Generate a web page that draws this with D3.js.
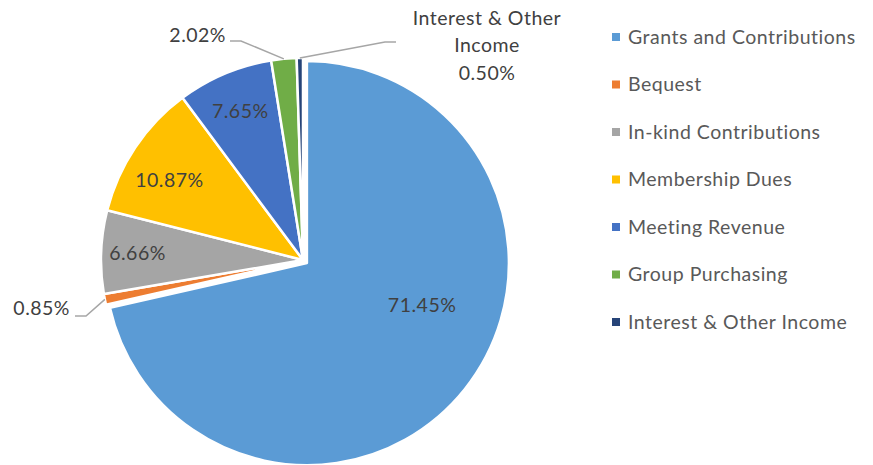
<!DOCTYPE html>
<html>
<head>
<meta charset="utf-8">
<script src="https://cdn.jsdelivr.net/npm/d3@7"></script>
<style>
  body { margin: 0; background: #fff; }
  svg text { font-family: Lato, "Open Sans", sans-serif; letter-spacing: 0.5px; }
</style>
</head>
<body>
<svg width="873" height="465"></svg>
<script>
// revenue breakdown
const categories = ["Grants and Contributions", "Bequest", "In-kind Contributions", "Membership Dues", "Meeting Revenue", "Group Purchasing", "Interest & Other Income"];
const shares = [71.45, 0.85, 6.66, 10.87, 7.65, 2.02, 0.50];
const labels = ["71.45%", "0.85%", "6.66%", "10.87%", "7.65%", "2.02%", "0.50%"];
const colors = ["#5B9BD5", "#ED7D31", "#A5A5A5", "#FFC000", "#4472C4", "#70AD47", "#264478"];

const data = categories.map((c, i) => ({name: c, value: shares[i], label: labels[i], color: colors[i]}));

let svg = d3.select("svg");
let cx = 303, cy = 260, r = 202;
let fs = 19.5;

let pie = d3.pie().sort(null).value(d => d.value);
let arc = d3.arc().innerRadius(0).outerRadius(r);
let arcs = pie(data);

let g = svg.append("g").attr("transform", `translate(${cx},${cy})`);

// big slice is pulled out a bit
function offset(d, i) {
  if (i !== 0) return "translate(0,0)";
  let a = (d.startAngle + d.endAngle) / 2, e = 5;
  return `translate(${Math.sin(a) * e},${-Math.cos(a) * e})`;
}

g.selectAll("path")
  .data(arcs)
  .enter()
  .append("path")
  .attr("d", arc)
  .attr("transform", offset)
  .attr("fill", d => d.data.color)
  .attr("stroke", "#fff")
  .attr("stroke-width", 2.5)
  .attr("stroke-linejoin", "round");

// inside labels: [angle shift (deg), radius fraction]
const inside = {0: [-18, 0.63], 2: [0, 0.82], 3: [-3, 0.77], 4: [0, 0.8]};
const txtColor = "#404040";

arcs.forEach((d, i) => {
  if (inside[i] == null) return;
  let a = (d.startAngle + d.endAngle) / 2 + inside[i][0] * Math.PI / 180, rr = r * inside[i][1];
  g.append("text")
    .attr("x", Math.sin(a) * rr)
    .attr("y", -Math.cos(a) * rr)
    .attr("dy", "0.35em")
    .attr("text-anchor", "middle")
    .attr("font-size", fs)
    .attr("fill", txtColor)
    .text(d.data.label);
});

// outside labels with leader lines
function edge(d, k) {
  let a = (d.startAngle + d.endAngle) / 2;
  return [cx + Math.sin(a) * r * k, cy - Math.cos(a) * r * k];
}

let lineColor = "#A6A6A6";
let bq = edge(arcs[1], 1.0);
svg.append("polyline")
  .attr("points", [[75, 316], [86, 316], bq].map(p => p.join(",")).join(" "))
  .attr("fill", "none").attr("stroke", lineColor).attr("stroke-width", 1.5);
svg.append("text").attr("x", 70).attr("y", 308).attr("dy", "0.35em")
  .attr("text-anchor", "end").attr("font-size", fs).attr("fill", txtColor).text(arcs[1].data.label);

let gp = edge(arcs[5], 1.0);
svg.append("polyline")
  .attr("points", [[230, 41], [241, 41], gp].map(p => p.join(",")).join(" "))
  .attr("fill", "none").attr("stroke", lineColor).attr("stroke-width", 1.5);
svg.append("text").attr("x", 226).attr("y", 35).attr("dy", "0.35em")
  .attr("text-anchor", "end").attr("font-size", fs).attr("fill", txtColor).text(arcs[5].data.label);

let io = edge(arcs[6], 1.0);
svg.append("polyline")
  .attr("points", [io, [385, 42], [396, 42]].map(p => p.join(",")).join(" "))
  .attr("fill", "none").attr("stroke", lineColor).attr("stroke-width", 1.5);
let ioText = svg.append("text").attr("text-anchor", "middle").attr("font-size", fs).attr("fill", txtColor);
["Interest & Other", "Income", arcs[6].data.label].forEach((t, i) => {
  ioText.append("tspan").attr("x", 487).attr("y", 18 + i * 27.5).attr("dy", "0.35em").text(t);
});

// legend
let legend = svg.append("g").attr("transform", "translate(612,37)");
let row = legend.selectAll("g")
  .data(data)
  .enter()
  .append("g")
  .attr("transform", (d, i) => `translate(0,${i * 47.5})`);
row.append("rect").attr("x", 0).attr("y", -4).attr("width", 8).attr("height", 8).attr("fill", d => d.color);
row.append("text").attr("x", 16).attr("dy", "0.35em").attr("font-size", fs).attr("fill", "#595959").text(d => d.name);
</script>
</body>
</html>
